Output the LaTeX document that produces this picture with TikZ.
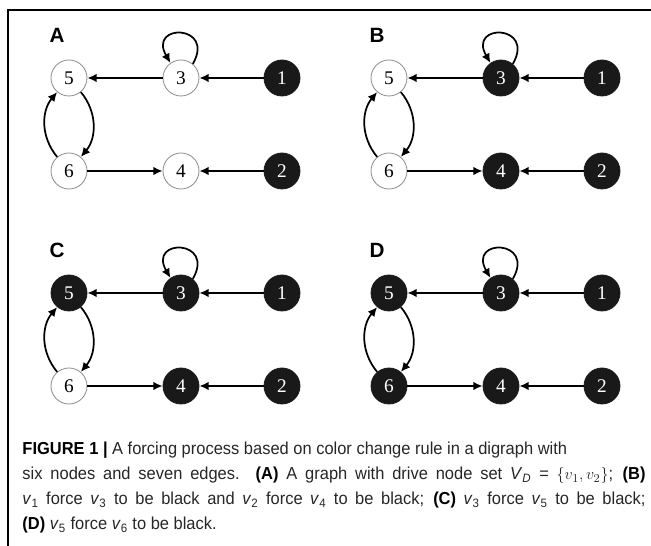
\documentclass[tikz,border=0pt]{standalone}
\usepackage{fontspec}
\setmainfont{Liberation Serif}
\setsansfont{Liberation Sans}
\newfontfamily\capfont{Liberation Sans}[FakeStretch=0.95]
\usetikzlibrary{arrows.meta}

\newcommand{\vsub}[1]{\textit{v}\textsubscript{#1}}

\tikzset{every picture/.style={line width=0.75pt}}
\tikzset{
  vwhite/.style={circle, draw=black!45, line width=0.6pt, fill=white, minimum size=27pt, inner sep=0pt, font=\fontsize{14.5}{14.5}\selectfont},
  vblack/.style={circle, draw=black!90, line width=0.6pt, fill=black!90, text=white, minimum size=27pt, inner sep=0pt, font=\fontsize{14.5}{14.5}\selectfont},
  edge/.style={line width=1.3pt, -{Latex[length=7pt,width=6.5pt]}},
  panel/.style={anchor=base west, inner sep=0pt, font=\sffamily\bfseries\fontsize{15.5}{15.5}\selectfont},
}

\begin{document}
\begin{tikzpicture}[x=0.75pt,y=0.75pt]
\useasboundingbox (0,0) rectangle (651,546);

%frame (left and top only)
\draw[line width=1.1pt] (8,0) -- (8,536) -- (651,536);

%the four panels: colour of nodes 3,4,5,6
\foreach \p/\dx/\dy/\sthree/\sfour/\sfive/\ssix in {
    A/0/0/vwhite/vwhite/vwhite/vwhite,
    B/320/0/vblack/vblack/vwhite/vwhite,
    C/0/-215/vblack/vblack/vblack/vwhite,
    D/320/-215/vblack/vblack/vblack/vblack}{
  \begin{scope}[shift={(\dx,\dy)}]
    \node[panel] (\p) at (49,503) {\p};
    \node[\sfive] (\p5) at (69,468) {5};
    \node[\sthree] (\p3) at (181,468) {3};
    \node[vblack] (\p1) at (282,468) {1};
    \node[\ssix] (\p6) at (69,375) {6};
    \node[\sfour] (\p4) at (181,375) {4};
    \node[vblack] (\p2) at (282,375) {2};
    % edges
    \draw[edge] (\p1) -- (\p3);
    \draw[edge] (\p3) -- (\p5);
    \draw[edge] (\p2) -- (\p4);
    \draw[edge] (\p6) -- (\p4);
    \draw[edge] (\p5) to[bend left=40] (\p6);
    \draw[edge] (\p6) to[bend left=40] (\p5);
    \draw[edge] (\p3.50) .. controls +(60:46) and +(120:46) .. (\p3.125);
  \end{scope}
}

% Text Node
\node[anchor=base west, inner sep=0pt, text width=467.25pt, align=justify, text=black!85,
      font=\capfont\fontsize{13}{18.75}\selectfont] (caption) at (22,91)
  {\textbf{\textcolor{black}{FIGURE 1 |}} A forcing process based on color change rule in a digraph with\newline
   six nodes and seven edges. \textbf{\textcolor{black}{(A)}} A graph with drive node set \textit{V}\textsubscript{\textit{D}} = $\{v_1,v_2\}$; \textbf{\textcolor{black}{(B)}}\linebreak
   \vsub{1} force \vsub{3} to be black and \vsub{2} force \vsub{4} to be black; \textbf{\textcolor{black}{(C)}} \vsub{3} force \vsub{5} to be black;\linebreak
   \textbf{\textcolor{black}{(D)}} \vsub{5} force \vsub{6} to be black.};

\end{tikzpicture}
\end{document}
